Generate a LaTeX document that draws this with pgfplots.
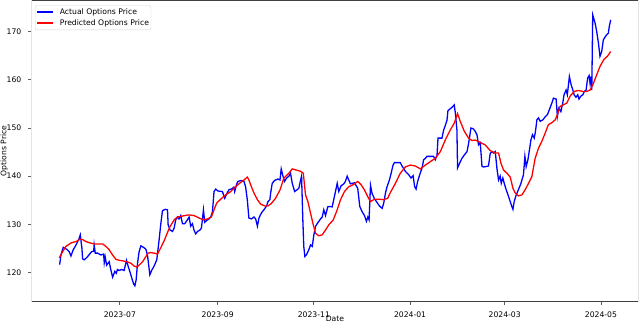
\documentclass[border=0pt]{standalone}
\usepackage{fontspec}
\setmainfont{DejaVu Sans}
\usepackage{pgfplots}
\pgfplotsset{compat=1.18}
\definecolor{darkspine}{HTML}{404040}
\definecolor{lightspine}{HTML}{E4E4E4}
\definecolor{tickgray}{HTML}{606060}
\definecolor{legframe}{HTML}{D6D6D6}

\begin{document}
\begin{tikzpicture}[font=\fontsize{7.7}{9.2}\selectfont]
\useasboundingbox (-31.7bp,-22.3bp) rectangle (608.3bp,301.7bp);
\begin{axis}[
    name=ax,
    at={(0,0)}, anchor=south west,
    scale only axis,
    width=606.6bp, height=301.2bp,
    xmin=-55.9, xmax=328.7,
    ymin=113.9, ymax=176.5,
    xtick={0,62,123,184,244,305},
    xticklabels={2023-07,2023-09,2023-11,2024-01,2024-03,2024-05},
    ytick={120,130,140,150,160,170},
    /pgf/number format/assume math mode=true,
    tick pos=left,
    tick align=outside,
    major tick length=3.5bp,
    tick style={color=tickgray, line width=0.8bp},
    axis line style={draw=none},
    xticklabel style={anchor=north, inner sep=0pt, yshift=-6.2bp},
    yticklabel style={anchor=east, inner sep=0pt, xshift=-6.7bp},
    xlabel={Date},
    ylabel={Options Price},
    xlabel style={at={(axis description cs:0.5,-0.0575)}, anchor=center},
    ylabel style={at={(axis description cs:-0.0453,0.5)}, anchor=center},
    legend cell align=left,
    legend style={at={(axis description cs:0,1)}, anchor=north west,
        xshift=3.3bp, yshift=-4.8bp,
        draw=legframe, rounded corners=2bp, fill=white,
        inner xsep=1bp, inner ysep=1bp, row sep=0bp, column sep=5bp,
        nodes={inner xsep=1bp, inner ysep=1.25bp, text height=6.6bp, text depth=2.1bp}},
    legend image code/.code={\draw[#1, line width=1.6bp] (0bp,0bp) -- (16bp,0bp);},
]
\addplot[blue, line width=1.3bp] coordinates {
(-38.2,121.6) (-37.3,123.7) (-35.9,125.2) (-33.7,124.8) (-32.1,124.3) (-31,123.4) (-29.7,124.6) (-27.8,125.7)
(-26.1,126.8) (-25.1,127.8) (-24.1,125.1) (-23.6,122.8) (-22.6,122.6) (-20.9,123.1) (-19.4,123.7) (-17.9,124.3)
(-16.6,124.4) (-16.3,125.7) (-15.6,124.0) (-14.1,124.0) (-12,123.6) (-10.3,123.8) (-9.9,122.0) (-9.3,123.2)
(-8.4,121.5) (-6.8,122.2) (-5.7,120.5) (-4.6,119.0) (-3.2,120.2) (-2.3,119.8) (-1.5,120.6) (-0.4,120.4)
(1.1,120.6) (2.7,120.4) (4.2,122.5) (5.3,121.2) (6.3,120.2) (7.4,119.0) (8.7,117.6) (9.5,117.2)
(10.3,118.4) (11.2,121.9) (12.2,124.3) (13.3,125.5) (15,125.2) (16.5,124.8) (17.5,123.6) (19,119.5)
(20.3,120.5) (21.7,121.3) (23.4,122.6) (23.9,124.0) (24.9,126.8) (25.9,129.9) (27,132.8) (28.7,133.1)
(30.2,133.0) (30.6,129.9) (31.8,128.8) (33.4,128.5) (34.4,129.2) (35.4,130.9) (36.5,131.5) (37.5,131.1)
(38.6,131.8) (39.7,130.1) (41.1,130.1) (42.8,130.9) (43.9,131.5) (44.9,129.6) (46,130.1) (47,128.8)
(48.1,128.0) (49.2,128.5) (50.8,128.8) (51.7,129.2) (52.3,130.9) (53,133.0) (53.8,130.4) (55.1,130.8)
(56.5,131.1) (57.6,131.5) (58.7,132.6) (59.7,136.8) (60.8,137.3) (62.2,136.9) (65,136.8) (66.5,135.4)
(67.7,136.3) (69.2,137.2) (70.7,137.3) (72.3,137.7) (72.8,136.8) (74.1,138.4) (74.9,138.9) (77,139.1)
(78.7,138.9) (79.7,137.8) (80.8,135.1) (81.8,131.3) (83.4,131.1) (85,131.5) (86.1,131.1) (87.2,129.6)
(88.2,131.3) (89.2,132.0) (90.3,132.6) (91.8,133.2) (93,133.8) (93.9,134.7) (95.1,135.1) (95.6,136.5)
(96.6,138.5) (98.1,139.1) (100.2,139.4) (101.5,139.2) (102.3,141.5) (103.4,140.0) (104.4,138.9) (105.7,139.6)
(107.2,140.0) (108.2,140.6) (109.3,138.5) (110.8,136.8) (112.5,137.2) (113.5,137.5) (114.6,139.2) (115.2,140.0)
(116,130.9) (116.6,125.4) (117.3,123.3) (118.4,123.7) (119.8,124.7) (120.9,125.7) (122,125.4) (123,127.8)
(124.1,129.6) (125.5,130.3) (127.2,131.1) (128.3,131.5) (129.3,133.0) (130.4,131.8) (131.8,133.6) (133.1,133.7)
(134.6,133.6) (135.6,135.1) (136.7,136.8) (137.8,138.5) (138.8,136.8) (140.3,138.0) (142,138.4) (143,138.9)
(144.1,140.0) (145.1,139.2) (146.2,138.4) (147.3,138.5) (148.7,138.6) (150.8,137.5) (152.1,133.7) (153.6,132.6)
(155.1,131.8) (156.3,130.6) (157.2,131.5) (158,130.9) (158.9,138.1) (159.9,136.4) (161.4,135.3) (162.7,134.7)
(164.1,134.0) (165.2,133.6) (166.3,133.3) (167.3,134.4) (168.4,136.5) (169.4,137.8) (170.9,139.2) (172,140.6)
(173.2,142.3) (174.1,142.8) (175.8,142.8) (177.8,142.8) (178.9,142.1) (181,141.0) (183.1,140.3) (184.6,139.6)
(185.9,140.1) (186.9,137.8) (187.8,137.3) (188.8,138.9) (190.1,140.3) (191.6,141.7) (192.6,143.4) (193.7,143.7)
(194.7,144.1) (196.8,144.1) (198.9,144.1) (200,143.4) (201.1,144.4) (201.7,147.9) (202.7,147.9) (204.2,147.9)
(205.3,149.6) (206.3,150.5) (207.4,151.6) (208,153.6) (209.1,153.9) (210.6,154.3) (212,154.8) (212.7,153.1)
(213.7,149.6) (214.1,141.7) (215.4,142.7) (216.9,143.7) (218.4,144.4) (220.1,145.1) (221.1,146.8) (222.6,150.0)
(224.2,149.8) (225.3,149.3) (226.4,148.6) (227.4,146.5) (228.5,146.9) (229.6,142.0) (230.6,141.9) (232.3,142.0)
(233.7,142.1) (234.8,144.7) (235.9,145.1) (236.9,144.8) (238,145.1) (239.1,141.5) (240.1,139.2) (241.1,140.0)
(241.8,138.5) (242.8,139.6) (243.7,138.5) (244.9,137.2) (246.4,135.8) (247.5,134.7) (248.5,133.7) (249.2,133.1)
(250,134.7) (251.3,136.1) (252.7,137.2) (254.2,138.4) (255.9,140.3) (256.8,144.1) (257.6,142.0) (258.7,143.4)
(259.7,145.5) (260.6,147.5) (261.6,148.6) (262.7,147.9) (263.5,149.3) (264.4,151.7) (265.4,152.1) (266.5,151.4)
(268.2,151.7) (269.6,152.3) (271.1,152.8) (272.3,153.8) (273.9,155.2) (274.9,156.2) (276.6,156.0) (277.4,152.4)
(278.3,154.1) (279.6,153.4) (280.8,155.2) (281.6,156.9) (282.9,157.9) (283.7,156.9) (285,160.7) (286.1,159.0)
(287.2,157.9) (288,156.9) (289.2,156.4) (290.3,156.9) (291.1,156.0) (292.2,156.6) (293.5,156.9) (294.5,157.6)
(295.6,157.9) (296.6,160.4) (297.5,160.9) (298.1,159.3) (298.7,160.7) (299.2,157.9) (299.8,173.5) (301.3,171.8)
(302.3,170.1) (303.4,167.7) (304.4,164.9) (305.5,165.9) (306.5,168.3) (307.6,168.9) (308.7,169.4) (309.7,169.7)
(310.3,171.1) (311.2,172.5)
};
\addlegendentry{Actual Options Price}
\addplot[red, line width=1.3bp] coordinates {
(-38.4,123.0) (-36.3,124.3) (-34.2,125.4) (-31,126.1) (-27.8,126.4) (-25.1,126.9) (-23.6,126.8) (-21.5,126.4)
(-18.8,126.1) (-16.3,125.9) (-13.1,125.9) (-10.9,125.9) (-8.9,125.4) (-6.8,124.7) (-4.6,123.6) (-2.5,122.7)
(-0.4,122.5) (1.7,122.4) (4.4,122.2) (7,121.9) (9.1,121.3) (10.8,121.1) (12.2,121.5) (14.4,122.2)
(16.5,123.3) (17.9,124.0) (19.6,124.1) (21.7,124.0) (23.9,123.8) (25.9,125.1) (28,126.5) (30.2,128.3)
(31.8,129.5) (34.4,130.9) (36.5,131.5) (39.7,131.7) (42.8,131.9) (44.9,131.9) (47,131.8) (50.2,131.3)
(53,130.9) (55.5,131.1) (58,131.5) (59.7,133.0) (61.4,134.4) (63.9,135.2) (67.1,136.1) (70.3,136.8)
(73.4,137.8) (76.6,138.7) (78.7,139.2) (80.8,139.8) (81.8,139.2) (83.4,137.8) (85,136.5) (87.2,135.1)
(89.2,134.2) (91.8,133.8) (93.9,133.8) (96,134.3) (98.7,135.4) (101.5,137.1) (104,139.6) (107.2,140.6)
(109.3,141.5) (111.4,141.3) (114.6,141.0) (116.3,140.6) (117.7,136.1) (119.2,134.7) (120.9,132.3) (122.6,129.9)
(124.1,128.1) (126.1,127.6) (128.3,127.8) (130.4,128.8) (132.5,129.9) (135.3,130.9) (137.8,133.0) (139.9,135.1)
(142.4,136.8) (145.1,137.8) (147.9,138.2) (150.8,138.9) (153,138.2) (155.1,137.1) (157.2,135.7) (158.9,134.7)
(161.4,135.2) (164.1,135.2) (167.3,135.1) (169.8,135.4) (171.5,136.6) (174.7,138.5) (177.8,140.6) (181,141.9)
(184.2,142.3) (187.3,142.1) (190.5,141.5) (193.7,142.3) (196.8,143.0) (200,143.7) (203.2,145.1) (206.3,147.5)
(209.5,149.6) (212,151.0) (214.1,153.0) (215.8,151.4) (218.4,149.3) (221.1,147.9) (223.2,147.4) (225.3,147.5)
(228.5,147.0) (231.6,146.5) (234.8,145.3) (238,144.8) (240.1,144.8) (241.6,142.7) (243.2,141.3) (245.4,140.6)
(247.5,139.8) (249.2,137.5) (250.6,136.5) (252.7,135.9) (254.9,136.1) (257,137.2) (259.1,138.5) (261.2,139.9)
(263.3,143.7) (265.4,145.8) (267.5,147.2) (269.6,148.9) (271.7,150.7) (273.9,151.1) (276,151.7) (277.4,152.8)
(279.1,154.5) (281.2,154.8) (283.4,155.2) (285.4,156.6) (288,157.6) (290.7,157.8) (293.5,157.6) (296,157.6)
(298.1,157.9) (299.8,158.9) (301.9,160.7) (304.4,162.8) (307,164.3) (309.1,164.9) (311.2,165.9)
};
\addlegendentry{Predicted Options Price}
\end{axis}
\draw[lightspine, line width=0.8bp] (ax.south west) -- (ax.north west);
\draw[lightspine, line width=0.8bp] (ax.south east) -- (ax.north east);
\draw[darkspine, line width=1bp] (ax.south west) -- (ax.south east);
\draw[darkspine, line width=1bp] (ax.north west) -- (ax.north east);
\end{tikzpicture}
\end{document}
